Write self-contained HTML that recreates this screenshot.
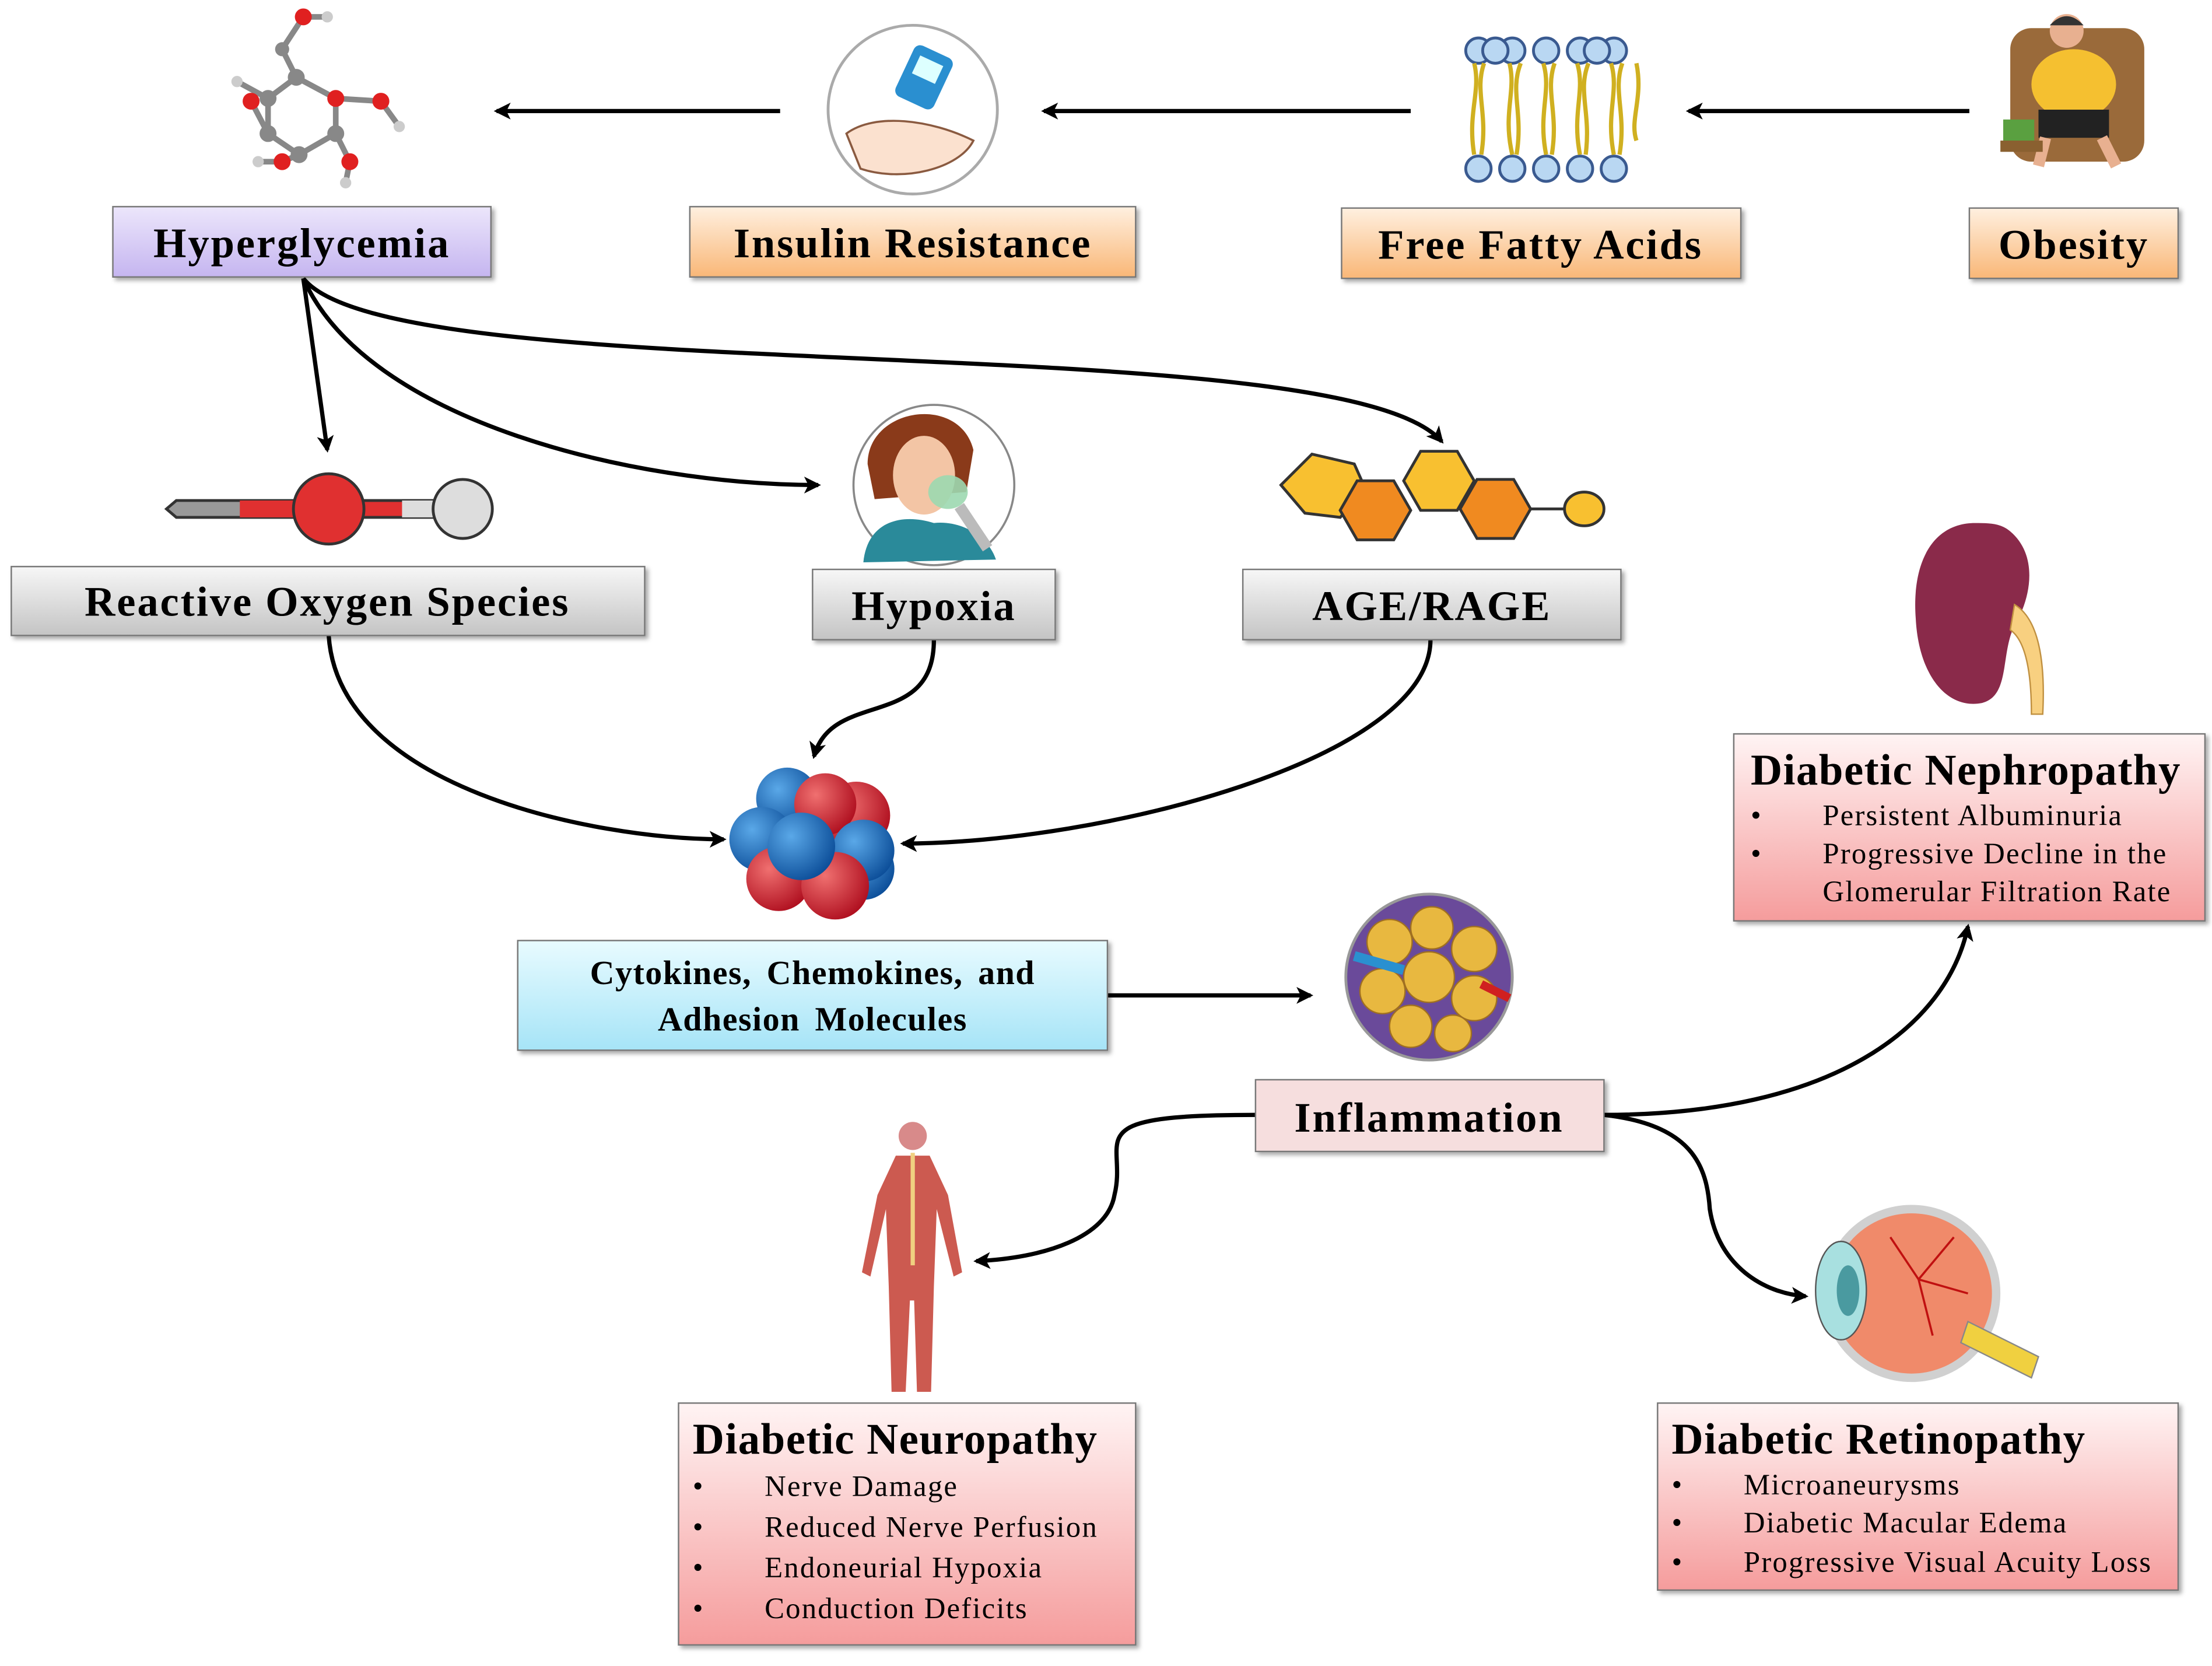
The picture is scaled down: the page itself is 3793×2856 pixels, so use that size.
<!DOCTYPE html>
<html><head><meta charset="utf-8"><style>
html,body{margin:0;padding:0;background:#fff;}
svg{display:block;}
text{font-family:"Liberation Serif",serif;}
</style></head><body>
<svg width="3793" height="2856" viewBox="0 0 1568 1185" preserveAspectRatio="none" xmlns="http://www.w3.org/2000/svg">
<defs>
<linearGradient id="gp" x1="0" y1="0" x2="0" y2="1"><stop offset="0" stop-color="#ece6fb"/><stop offset="1" stop-color="#c5b5f0"/></linearGradient>
<linearGradient id="go" x1="0" y1="0" x2="0" y2="1"><stop offset="0" stop-color="#fff0e0"/><stop offset="1" stop-color="#f9b777"/></linearGradient>
<linearGradient id="gg" x1="0" y1="0" x2="0" y2="1"><stop offset="0" stop-color="#f7f7f7"/><stop offset="1" stop-color="#c4c4c4"/></linearGradient>
<linearGradient id="gb" x1="0" y1="0" x2="0" y2="1"><stop offset="0" stop-color="#e8fbff"/><stop offset="1" stop-color="#a6e4f7"/></linearGradient>
<linearGradient id="gr" x1="0" y1="0" x2="0" y2="1"><stop offset="0" stop-color="#fff4f4"/><stop offset="1" stop-color="#f59c9c"/></linearGradient>
<filter id="sh" x="-5%" y="-5%" width="115%" height="125%"><feDropShadow dx="2" dy="2" stdDeviation="1.5" flood-color="#000" flood-opacity="0.35"/></filter>
<marker id="ah" markerWidth="12" markerHeight="12" refX="10" refY="6" orient="auto" markerUnits="userSpaceOnUse"><path d="M0,0 L12,6 L0,12 L3,6 Z" fill="#000"/></marker>
<radialGradient id="sr" cx="0.35" cy="0.35" r="0.7"><stop offset="0" stop-color="#f07070"/><stop offset="1" stop-color="#b01020"/></radialGradient>
<radialGradient id="sb" cx="0.35" cy="0.35" r="0.7"><stop offset="0" stop-color="#5aa8e8"/><stop offset="1" stop-color="#0d4f9a"/></radialGradient>
</defs>

<g stroke="#000" stroke-width="3" fill="none" marker-end="url(#ah)">
<path d="M553,79 L352,79"/>
<path d="M1000,79 L740,79"/>
<path d="M1396,79 L1197,79"/>
<path d="M215,198 L232,320"/>
<path d="M215,198 C260,300 450,345 580,345"/>
<path d="M215,198 C280,280 950,230 1022,314"/>
<path d="M233,452 C240,560 420,597 513,597"/>
<path d="M662,455 C662,520 590,490 577,538"/>
<path d="M1014,455 C1014,540 780,600 640,600"/>
<path d="M785,708 L929,708"/>
<path d="M890,793 C760,793 800,810 790,850 C785,880 740,895 692,897"/>
<path d="M1137,793 C1300,793 1380,730 1395,659"/>
<path d="M1137,793 C1200,800 1210,830 1212,860 C1218,900 1250,920 1280,922"/>
</g>

<g filter="url(#sh)" stroke="#777" stroke-width="1">
<rect x="80" y="147" width="268" height="50" fill="url(#gp)"/>
<rect x="489" y="147" width="316" height="50" fill="url(#go)"/>
<rect x="951" y="148" width="283" height="50" fill="url(#go)"/>
<rect x="1396" y="148" width="148" height="50" fill="url(#go)"/>
<rect x="8" y="403" width="449" height="49" fill="url(#gg)"/>
<rect x="576" y="405" width="172" height="50" fill="url(#gg)"/>
<rect x="881" y="405" width="268" height="50" fill="url(#gg)"/>
<rect x="367" y="669" width="418" height="78" fill="url(#gb)"/>
<rect x="890" y="768" width="247" height="51" fill="#f6dede"/>
<rect x="1229" y="522" width="334" height="133" fill="url(#gr)"/>
<rect x="481" y="998" width="324" height="172" fill="url(#gr)"/>
<rect x="1175" y="998" width="369" height="133" fill="url(#gr)"/>
</g>

<g font-weight="bold" font-size="30" text-anchor="middle" fill="#000" letter-spacing="1.2">
<text x="214" y="183">Hyperglycemia</text>
<text x="647" y="183">Insulin Resistance</text>
<text x="1092" y="184">Free Fatty Acids</text>
<text x="1470" y="184">Obesity</text>
<text x="232" y="438">Reactive Oxygen Species</text>
<text x="662" y="441">Hypoxia</text>
<text x="1015" y="441">AGE/RAGE</text>
<text x="1013" y="805">Inflammation</text>
<text x="576" y="700" font-size="24" word-spacing="4" letter-spacing="0.6">Cytokines, Chemokines, and</text>
<text x="576" y="733" font-size="24" word-spacing="4" letter-spacing="0.6">Adhesion Molecules</text>
</g>
<g font-size="31" font-weight="bold" fill="#000" letter-spacing="0.6">
<text x="1241" y="558">Diabetic Nephropathy</text>
<text x="491" y="1034">Diabetic Neuropathy</text>
<text x="1185" y="1034">Diabetic Retinopathy</text>
</g>
<g font-size="21" fill="#000" letter-spacing="0.9">
<text x="1241" y="587">•</text><text x="1292" y="587">Persistent Albuminuria</text>
<text x="1241" y="614">•</text><text x="1292" y="614">Progressive Decline in the</text>
<text x="1292" y="641">Glomerular Filtration Rate</text>
<text x="491" y="1064">•</text><text x="542" y="1064">Nerve Damage</text>
<text x="491" y="1093">•</text><text x="542" y="1093">Reduced Nerve Perfusion</text>
<text x="491" y="1122">•</text><text x="542" y="1122">Endoneurial Hypoxia</text>
<text x="491" y="1151">•</text><text x="542" y="1151">Conduction Deficits</text>
<text x="1185" y="1063">•</text><text x="1236" y="1063">Microaneurysms</text>
<text x="1185" y="1090">•</text><text x="1236" y="1090">Diabetic Macular Edema</text>
<text x="1185" y="1118">•</text><text x="1236" y="1118">Progressive Visual Acuity Loss</text>
</g>

<g stroke="#888" stroke-width="4" fill="none">
<path d="M210,55 L238,70 L238,95 L212,110 L190,95 L190,70 Z"/>
<path d="M210,55 L200,35 L215,12 L232,12 M238,70 L270,72 L283,90 M238,95 L248,115 L245,130 M212,110 L200,115 L183,115 M190,95 L178,72 M190,70 L168,58"/>
</g>
<g>
<circle cx="210" cy="55" r="6" fill="#888"/><circle cx="238" cy="70" r="6" fill="#e02020"/><circle cx="238" cy="95" r="6" fill="#888"/>
<circle cx="212" cy="110" r="6" fill="#888"/><circle cx="190" cy="95" r="6" fill="#888"/><circle cx="190" cy="70" r="6" fill="#888"/>
<circle cx="200" cy="35" r="5" fill="#888"/><circle cx="215" cy="12" r="6" fill="#e02020"/><circle cx="232" cy="12" r="4" fill="#ccc"/>
<circle cx="270" cy="72" r="6" fill="#e02020"/><circle cx="283" cy="90" r="4" fill="#ccc"/>
<circle cx="248" cy="115" r="6" fill="#e02020"/><circle cx="245" cy="130" r="4" fill="#ccc"/>
<circle cx="200" cy="115" r="6" fill="#e02020"/><circle cx="183" cy="115" r="4" fill="#ccc"/>
<circle cx="178" cy="72" r="6" fill="#e02020"/><circle cx="168" cy="58" r="4" fill="#ccc"/>
</g>

<circle cx="647" cy="78" r="60" fill="#fff" stroke="#aaa" stroke-width="2"/>
<path d="M600,95 C620,80 660,85 690,100 C680,120 640,130 610,120 Z" fill="#fbe1cf" stroke="#8a5a40" stroke-width="1.5"/>
<rect x="640" y="35" width="30" height="40" rx="5" fill="#2a8fd0" transform="rotate(25 655 55)"/>
<rect x="646" y="42" width="18" height="14" fill="#dff" transform="rotate(25 655 55)"/>

<g fill="#b9d7f2" stroke="#3a5a90" stroke-width="2">
<circle cx="1048" cy="36" r="9"/><circle cx="1072" cy="36" r="9"/><circle cx="1096" cy="36" r="9"/><circle cx="1120" cy="36" r="9"/><circle cx="1144" cy="36" r="9"/>
<circle cx="1060" cy="36" r="9"/><circle cx="1132" cy="36" r="9"/>
<circle cx="1048" cy="120" r="9"/><circle cx="1072" cy="120" r="9"/><circle cx="1096" cy="120" r="9"/><circle cx="1120" cy="120" r="9"/><circle cx="1144" cy="120" r="9"/>
</g>
<g stroke="#d0b020" stroke-width="3" fill="none">
<path d="M1045,45 C1050,65 1040,80 1045,110 M1052,45 C1045,65 1055,80 1050,110 M1070,45 C1075,65 1065,80 1072,110 M1078,45 C1070,65 1080,80 1075,110 M1094,45 C1100,65 1090,80 1096,110 M1102,45 C1095,65 1105,80 1100,110 M1118,45 C1124,65 1114,80 1120,110 M1126,45 C1118,65 1128,80 1124,110 M1142,45 C1148,65 1138,80 1144,110 M1150,45 C1143,65 1153,80 1148,110 M1160,45 C1165,70 1155,85 1160,100"/>
</g>

<rect x="1425" y="20" width="95" height="95" rx="15" fill="#9a6a3a"/>
<ellipse cx="1470" cy="60" rx="30" ry="25" fill="#f5c030"/>
<circle cx="1465" cy="22" r="12" fill="#e8b090"/>
<path d="M1453,18 Q1465,5 1477,18" fill="#333"/>
<rect x="1445" y="78" width="50" height="20" fill="#222"/>
<path d="M1450,98 L1445,118 M1490,98 L1500,118" stroke="#e8b090" stroke-width="8"/>
<rect x="1418" y="100" width="30" height="8" fill="#8a6030"/>
<rect x="1420" y="85" width="22" height="15" fill="#5aa040"/>

<path d="M118,362 L125,356 L210,356 L210,368 L125,368 Z" fill="#999" stroke="#333" stroke-width="2"/>
<rect x="170" y="356" width="40" height="12" fill="#e03030"/>
<rect x="255" y="356" width="55" height="12" fill="#e03030" stroke="#333" stroke-width="2"/>
<rect x="285" y="356" width="25" height="12" fill="#ddd"/>
<circle cx="233" cy="362" r="25" fill="#e03030" stroke="#333" stroke-width="2"/>
<circle cx="328" cy="362" r="21" fill="#ddd" stroke="#333" stroke-width="2"/>

<circle cx="662" cy="345" r="57" fill="#fff" stroke="#888" stroke-width="1.5"/>
<path d="M615,330 C615,290 680,280 690,320 L685,350 L620,355 Z" fill="#8a3a1a"/>
<ellipse cx="655" cy="338" rx="22" ry="28" fill="#f3c5a5"/>
<path d="M612,400 C615,370 640,365 662,372 C680,370 700,380 706,398 Z" fill="#2a8a9a"/>
<ellipse cx="672" cy="350" rx="14" ry="12" fill="#9cd8b0" opacity="0.9"/>
<path d="M680,360 L700,390" stroke="#bbb" stroke-width="8"/>

<g stroke="#333" stroke-width="2">
<path d="M908,345 L930,323 L960,330 L968,348 L950,368 L925,365 Z" fill="#f8c030"/>
<path d="M950,348 L962,327 L988,327 L1000,348 L988,369 L962,369 Z" fill="#f08a20" transform="translate(0,15)"/>
<path d="M995,342 L1007,321 L1033,321 L1045,342 L1033,363 L1007,363 Z" fill="#f8c030"/>
<path d="M1035,342 L1047,321 L1073,321 L1085,342 L1073,363 L1047,363 Z" fill="#f08a20" transform="translate(0,20)"/>
<path d="M1085,362 L1110,362"/>
<ellipse cx="1123" cy="362" rx="14" ry="12" fill="#f8c030"/>
</g>

<circle cx="607" cy="580" r="24" fill="url(#sr)"/>
<circle cx="612" cy="618" r="22" fill="url(#sb)"/>
<circle cx="558" cy="568" r="22" fill="url(#sb)"/>
<circle cx="585" cy="572" r="22" fill="url(#sr)"/>
<circle cx="540" cy="597" r="23" fill="url(#sb)"/>
<circle cx="612" cy="605" r="22" fill="url(#sb)"/>
<circle cx="552" cy="625" r="23" fill="url(#sr)"/>
<circle cx="592" cy="630" r="24" fill="url(#sr)"/>
<circle cx="568" cy="602" r="24" fill="url(#sb)"/>

<circle cx="1013" cy="695" r="59" fill="#6a4a9a" stroke="#999" stroke-width="2"/>
<g fill="#e8b840" stroke="#a07020" stroke-width="1">
<circle cx="985" cy="670" r="16"/><circle cx="1015" cy="660" r="15"/><circle cx="1045" cy="675" r="16"/>
<circle cx="980" cy="705" r="16"/><circle cx="1013" cy="695" r="18"/><circle cx="1045" cy="710" r="16"/>
<circle cx="1000" cy="730" r="15"/><circle cx="1030" cy="735" r="13"/>
</g>
<path d="M960,680 L995,690" stroke="#2a90d0" stroke-width="7"/>
<path d="M1050,700 L1070,710" stroke="#d02020" stroke-width="6"/>

<path d="M1400,372 C1370,372 1355,400 1358,440 C1360,480 1380,505 1405,500 C1425,495 1418,465 1428,445 C1440,425 1445,395 1425,378 C1418,372 1410,372 1400,372 Z" fill="#8a2a4a"/>
<path d="M1428,430 C1445,440 1450,470 1448,508 L1440,508 C1440,475 1435,455 1425,448 Z" fill="#f8d080" stroke="#c09040"/>

<circle cx="647" cy="808" r="10" fill="#d88a8a"/>
<path d="M635,822 L659,822 L672,850 L682,905 L676,908 L664,860 L662,915 L660,990 L650,990 L648,925 L645,925 L642,990 L632,990 L630,915 L628,860 L617,908 L611,905 L622,850 Z" fill="#cc5a50"/>
<path d="M647,820 L647,900" stroke="#f0d080" stroke-width="3"/>

<circle cx="1355" cy="920" r="60" fill="#f08a6a" stroke="#d0d0d0" stroke-width="6"/>
<path d="M1395,940 L1445,965 L1440,980 L1390,955 Z" fill="#f0d040" stroke="#888"/>
<ellipse cx="1305" cy="918" rx="18" ry="35" fill="#a8e0e0" stroke="#555"/>
<ellipse cx="1310" cy="918" rx="8" ry="18" fill="#4a9aa0"/>
<g stroke="#c01010" stroke-width="1.5" fill="none">
<path d="M1360,910 L1385,880 M1360,910 L1395,920 M1360,910 L1370,950 M1360,910 L1340,880"/>
</g>
</svg>
</body></html>
